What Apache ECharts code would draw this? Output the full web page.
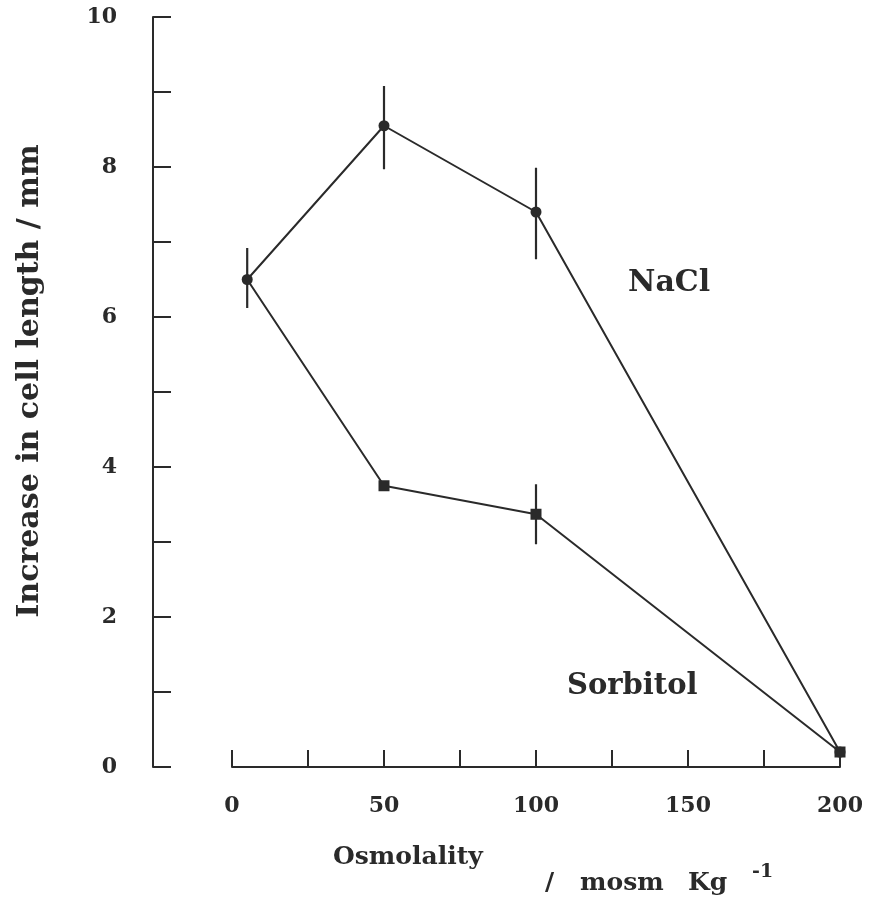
<!DOCTYPE html>
<html><head><meta charset="utf-8">
<script src="https://cdn.jsdelivr.net/npm/echarts@6/dist/echarts.min.js"></script>
<style>html,body{margin:0;padding:0;background:#fff}#c{width:872px;height:924px}</style>
</head><body><div id="c"></div>
<script>
const osmolality = [5, 50, 100, 200];
const naclMean = [6.5, 8.55, 7.4, 0.2];
const naclLow = [6.12, 7.97, 6.77, 0.2];
const naclHigh = [6.92, 9.08, 7.99, 0.2];
const sorbMean = [6.5, 3.75, 3.37, 0.2];
const sorbLow = [6.5, 3.75, 2.97, 0.2];
const sorbHigh = [6.5, 3.75, 3.77, 0.2];
const xTickLabels = ['0', '50', '100', '150', '200'];
const yTickLabels = ['0', '2', '4', '6', '8', '10'];

const ink = '#2a2a2a';
const font = '"DejaVu Serif", "Liberation Serif", serif';

function errData(lo, hi) { return osmolality.map((x, i) => [x, lo[i], hi[i]]); }
function errRender(params, api) {
  const a = api.coord([api.value(0), api.value(1)]);
  const b = api.coord([api.value(0), api.value(2)]);
  return { type: 'line', shape: { x1: a[0], y1: a[1], x2: b[0], y2: b[1] },
           style: { stroke: ink, lineWidth: 2.2 } };
}

const chart = echarts.init(document.getElementById('c'));
chart.setOption({
  animation: false,
  backgroundColor: '#fff',
  grid: { left: 232, right: 32, top: 17, bottom: 157 },
  xAxis: {
    type: 'value', min: 0, max: 200, interval: 25,
    axisLine: { onZero: false, lineStyle: { color: ink, width: 2 } },
    axisTick: { inside: true, length: 17, lineStyle: { color: ink, width: 2 } },
    splitLine: { show: false },
    axisLabel: { margin: 28, color: ink, fontFamily: font, fontWeight: 'bold', fontSize: 22,
      formatter: v => xTickLabels.includes(String(v)) ? String(v) : '' }
  },
  yAxis: {
    type: 'value', min: 0, max: 10, interval: 1, offset: 79,
    axisLine: { show: true, onZero: false, lineStyle: { color: ink, width: 2 } },
    axisTick: { show: true, inside: true, length: 18, lineStyle: { color: ink, width: 2 } },
    splitLine: { show: false },
    axisLabel: { margin: 36, color: ink, fontFamily: font, fontWeight: 'bold', fontSize: 22,
      formatter: v => yTickLabels.includes(String(v)) ? String(v) : '' }
  },
  series: [
    { name: 'Sorbitol', type: 'line', data: osmolality.map((x, i) => [x, sorbMean[i]]),
      symbol: (v, p) => p.dataIndex === 0 ? 'none' : 'rect', symbolSize: 11, itemStyle: { color: ink },
      lineStyle: { color: ink, width: 2 }, z: 3 },
    { name: 'NaCl', type: 'line', data: osmolality.map((x, i) => [x, naclMean[i]]),
      symbol: 'circle', symbolSize: 11, itemStyle: { color: ink },
      lineStyle: { color: ink, width: 2 }, z: 4 },
    { type: 'custom', data: errData(naclLow, naclHigh), renderItem: errRender, z: 2 },
    { type: 'custom', data: errData(sorbLow, sorbHigh), renderItem: errRender, z: 2 }
  ],
  graphic: [
    { type: 'text', left: 628, top: 268, style: { text: 'NaCl', font: 'bold 30px ' + font, fill: ink } },
    { type: 'text', left: 567, top: 672, style: { text: 'Sorbitol', font: 'bold 29px ' + font, fill: ink } },
    { type: 'text', x: 30, y: 381, rotation: Math.PI / 2,
      style: { text: 'Increase in cell length / mm', font: 'bold 30px ' + font, fill: ink,
               align: 'center', verticalAlign: 'middle' } },
    { type: 'text', left: 333, top: 845, style: { text: 'Osmolality', font: 'bold 25px ' + font, fill: ink } },
    { type: 'text', left: 545, top: 871, style: { text: '/', font: 'bold 25px ' + font, fill: ink } },
    { type: 'text', left: 580, top: 871, style: { text: 'mosm', font: 'bold 25px ' + font, fill: ink } },
    { type: 'text', left: 688, top: 871, style: { text: 'Kg', font: 'bold 25px ' + font, fill: ink } },
    { type: 'text', left: 752, top: 863, style: { text: '-1', font: 'bold 19px ' + font, fill: ink } }
  ]
});
</script></body></html>
